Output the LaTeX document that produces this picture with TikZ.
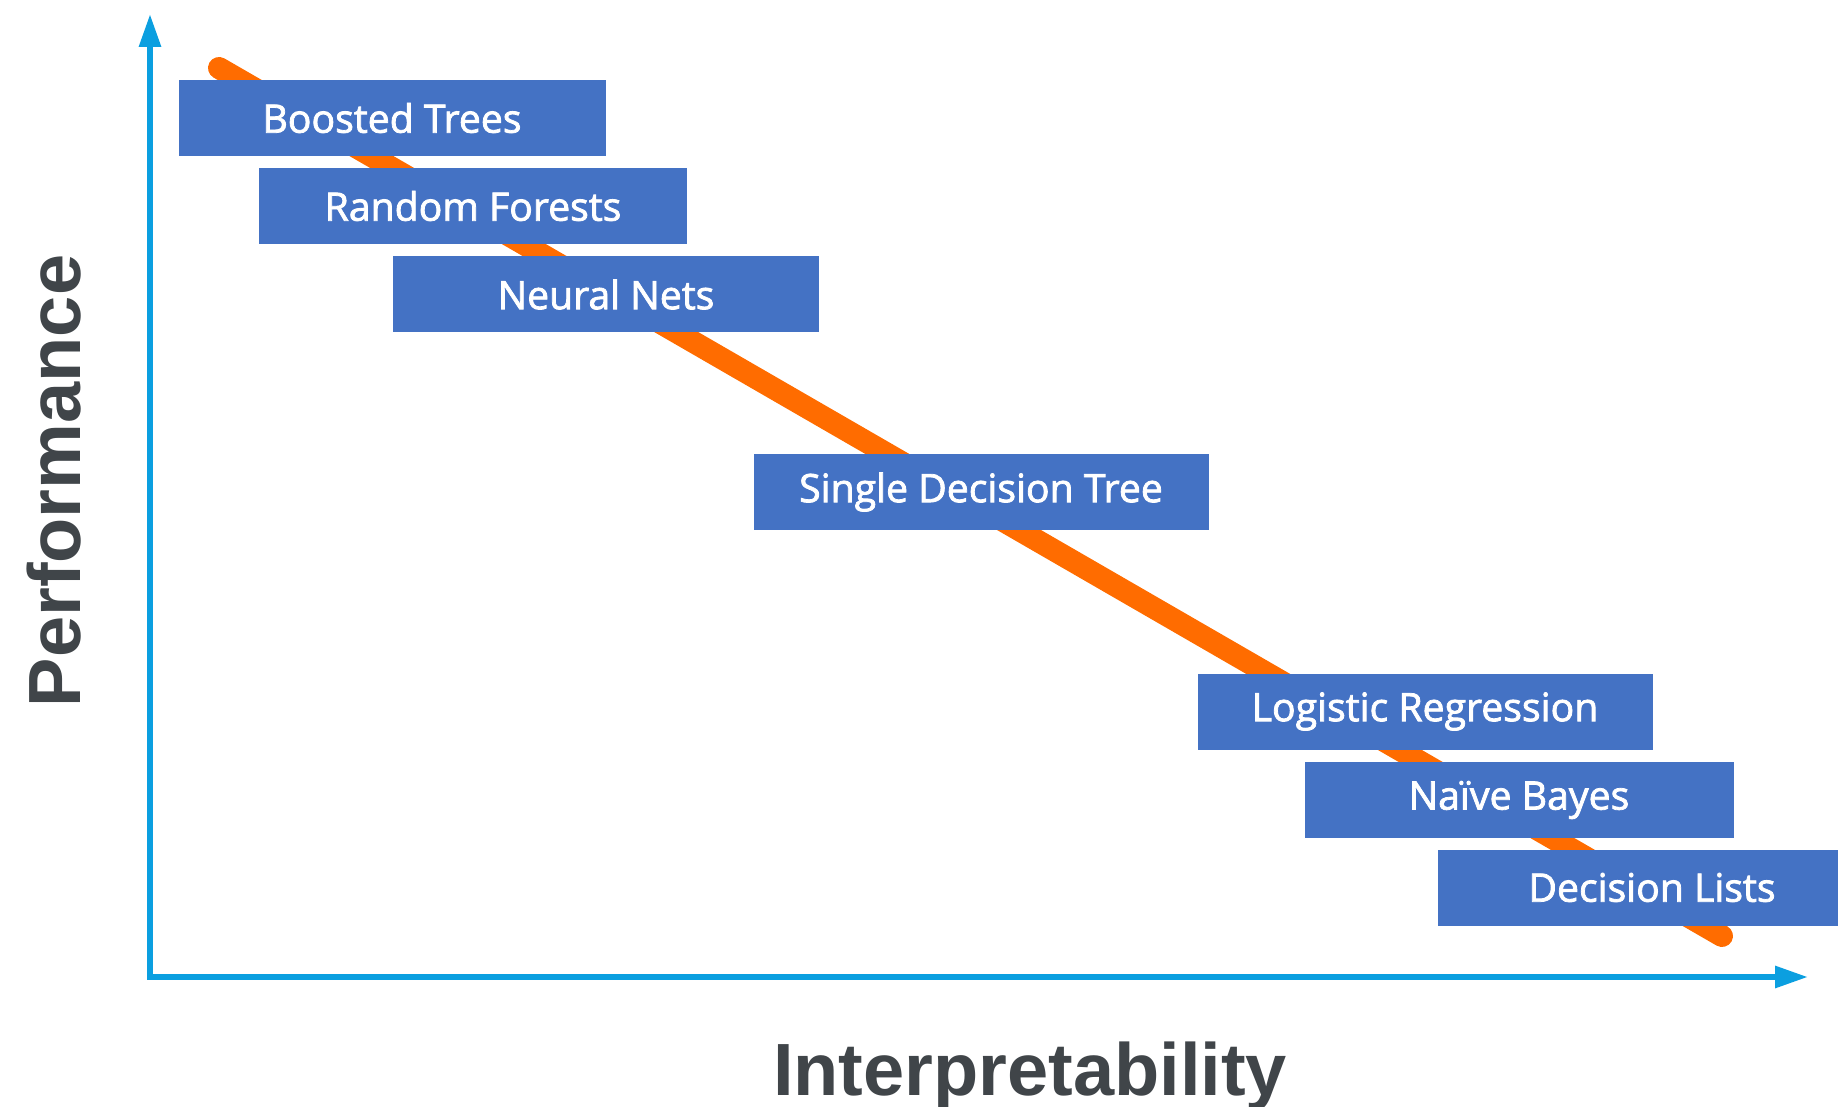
\documentclass[tikz,border=0pt]{standalone}
\usepackage{fontspec}
\setmainfont{Open Sans}
\newfontfamily\boxfont{Open Sans}[FakeBold=2]
\newfontfamily\labelfont{Liberation Sans}
\usetikzlibrary{arrows.meta}
\definecolor{boxblue}{HTML}{4472C4}
\definecolor{axisblue}{HTML}{0B9FE0}
\definecolor{trendorange}{HTML}{FF6C00}
\definecolor{labelgray}{HTML}{404549}
\tikzset{
	model/.style={fill=boxblue,text=white,inner sep=0,minimum height=38pt,font=\boxfont\fontsize{19.6pt}{23pt}\selectfont},
	axis/.style={line width=3pt,draw=axisblue,{Triangle[width=10.5pt,length=16.5pt]}-{Triangle[width=10.5pt,length=16.5pt]}},
	trend/.style={line width=11pt,draw=trendorange,line cap=round},
	axislabel/.style={text=labelgray,font=\labelfont\bfseries\fontsize{37pt}{44pt}\selectfont}
}
\begin{document}
\begin{tikzpicture}[x=0.5pt,y=-0.5pt]
		\useasboundingbox (0,0) rectangle (1838,1107);
		\clip (0,0) rectangle (1838,1107);
		\coordinate (O) at (150,977);
		\coordinate (Ytip) at (150,14);
		\coordinate (Xtip) at (1808,977);
		\coordinate (T1) at (219,68);
		\coordinate (T2) at (1722,936);
		\draw[axis] (Ytip) -- (O) -- (Xtip);
		\draw[trend] (T1) -- (T2);
		% models, from high performance to high interpretability
		\node[model,minimum width=213.5pt] (BT) at (392,118) {Boosted Trees};
		\node[model,minimum width=214pt] (RF) at (473,206) {Random Forests};
		\node[model,minimum width=213pt] (NN) at (606,294.5) {Neural Nets};
		\node[model,minimum width=227.5pt] (SDT) at (981,492) {Single Decision Tree};
		\node[model,minimum width=227.5pt] (LR) at (1425,711.5) {Logistic Regression};
		\node[model,minimum width=214.5pt] (NB) at (1519,800) {Naïve Bayes};
		\node[model,minimum width=214pt] (DL) at (1652,887.5) {Decision Lists};
		\node[axislabel,rotate=90] (perf) at (54,481) {Performance};
		\node[axislabel,anchor=base] (interp) at (1030,1095) {Interpretability};
\end{tikzpicture}
\end{document}
